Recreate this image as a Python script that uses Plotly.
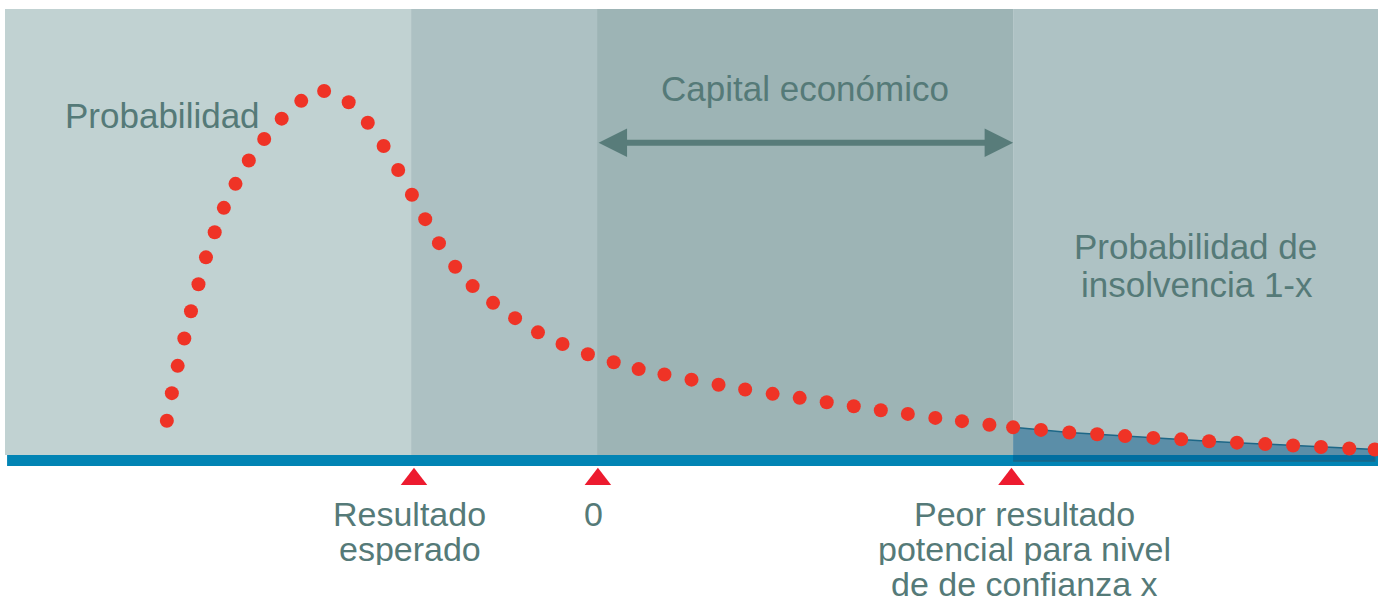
import plotly.graph_objects as go

# ---------------- data ----------------
# loss distribution: x = result (0 at "0", worst result at confidence x = 100), y = density (peak = 100)
loss_x = [-103.4, -102.2, -100.8, -99.2, -97.6, -95.8, -94.0, -91.9, -89.7, -86.9,
          -83.7, -80.0, -75.8, -71.1, -65.6, -59.7, -55.1, -51.3, -47.8, -44.5,
          -41.3, -38.0, -34.1, -29.9, -25.0, -19.7, -14.2, -8.3, -2.2, 4.0,
          10.0, 16.2, 22.7, 29.2, 35.6, 42.2, 48.7, 55.2, 61.7, 68.2,
          74.7, 81.3, 87.7, 94.3, 100.0, 106.7, 113.5, 120.2, 126.9, 133.7,
          140.4, 147.1, 153.8, 160.6, 167.3, 174.0, 180.8, 186.9]
density_y = [9.4, 17.0, 24.5, 32.0, 39.5, 46.9, 54.3, 61.2, 67.9, 74.5,
             80.9, 86.8, 92.4, 97.3, 100.0, 96.9, 91.3, 84.9, 78.3, 71.5,
             64.8, 58.2, 51.7, 46.4, 41.8, 37.6, 33.7, 30.5, 27.7, 25.5,
             23.6, 22.1, 20.7, 19.3, 18.0, 16.8, 15.7, 14.5, 13.4, 12.3,
             11.3, 10.2, 9.3, 8.3, 7.6, 6.9, 6.2, 5.7, 5.2, 4.7,
             4.3, 3.8, 3.4, 3.0, 2.6, 2.2, 1.8, 1.5]

# background bands
band_edges = [-142.3, -44.7, 0.0, 100.0, 187.7]
band_colors = ["#c1d2d2", "#adc1c3", "#9db4b5", "#aec2c4"]
band_top = 122.53

# key points marked under the axis
key_x = [-44.0, 0.2, 99.6]
key_labels = [["Resultado", "esperado"], ["0"],
              ["Peor resultado", "potencial para nivel", "de de confianza x"]]
key_label_x = [-45.0, -0.8, 102.8]

confidence_x = 100.0
x_range = [-142.3, 187.7]
y_range = [-40.38, 122.53]
axis_bar = [-3.02, 0.0]
tail_floor = -1.65
marker_y = -6.67
label_line_y = [-16.0, -25.8, -35.3]

TEXT = "#557a78"
FONT = "Liberation Sans, Arial, sans-serif"

fig = go.Figure()

# background bands
shapes = []
for i, c in enumerate(band_colors):
    shapes.append(dict(type="rect", xref="x", yref="y", x0=band_edges[i], x1=band_edges[i + 1],
                       y0=0, y1=band_top, fillcolor=c, line_width=0, layer="below"))
# blue axis bar
shapes.append(dict(type="rect", xref="x", yref="y", x0=-141.8, x1=x_range[1],
                   y0=axis_bar[0], y1=axis_bar[1], fillcolor="#0284b4", line_width=0, layer="below"))

# tail (probability of insolvency) area
tail_x = [x for x in loss_x if x >= confidence_x]
tail_y = [y for x, y in zip(loss_x, density_y) if x >= confidence_x]
poly_x = tail_x + [tail_x[-1], tail_x[0]]
poly_y = tail_y + [tail_floor, tail_floor]
fig.add_trace(go.Scatter(x=poly_x, y=poly_y, fill="toself", mode="lines",
                         fillcolor="rgba(0,85,137,0.48)",
                         line=dict(color="#1d6787", width=1.5),
                         hoverinfo="skip", showlegend=False))

# dotted distribution
fig.add_trace(go.Scatter(x=loss_x, y=density_y, mode="markers",
                         marker=dict(size=14, color="#ef3326"),
                         hoverinfo="skip", showlegend=False))

# red triangle markers under the axis
fig.add_trace(go.Scatter(x=key_x, y=[marker_y] * len(key_x), mode="markers",
                         marker=dict(symbol="triangle-up", size=23, color="#ed1b2f"),
                         hoverinfo="skip", showlegend=False))

ann = []
# arrow for economic capital
ann.append(dict(x=confidence_x, y=85.8, ax=0, ay=85.8, xref="x", yref="y", axref="x", ayref="y",
                text="", showarrow=True, arrowside="end+start", arrowhead=2, startarrowhead=2,
                arrowsize=0.95, startarrowsize=0.95, arrowwidth=6, arrowcolor="#587c7a"))
ann.append(dict(x=50, y=100.8, xref="x", yref="y", text="Capital económico", showarrow=False,
                xanchor="center", yanchor="middle", font=dict(family=FONT, size=35, color=TEXT)))
ann.append(dict(x=-128.3, y=93.3, xref="x", yref="y", text="Probabilidad", showarrow=False,
                xanchor="left", yanchor="middle", font=dict(family=FONT, size=35, color=TEXT)))
ann.append(dict(x=143.8, y=57.5, xref="x", yref="y", text="Probabilidad de", showarrow=False,
                height=36, xanchor="center", yanchor="middle",
                font=dict(family=FONT, size=35, color=TEXT)))
ann.append(dict(x=144.3, y=47.0, xref="x", yref="y", text="insolvencia 1-x", showarrow=False,
                height=36, xanchor="center", yanchor="middle",
                font=dict(family=FONT, size=35, color=TEXT)))
for lx, lines in zip(key_label_x, key_labels):
    for j, t in enumerate(lines):
        ann.append(dict(x=lx, y=label_line_y[j], xref="x", yref="y", text=t, showarrow=False,
                        height=33, xanchor="center", yanchor="middle",
                        font=dict(family=FONT, size=34, color=TEXT)))

fig.update_layout(
    width=1386, height=602,
    margin=dict(l=5, r=8, t=9, b=0),
    paper_bgcolor="white", plot_bgcolor="white",
    xaxis=dict(range=x_range, visible=False, fixedrange=True),
    yaxis=dict(range=y_range, visible=False, fixedrange=True),
    shapes=shapes, annotations=ann, showlegend=False,
)

fig.write_html("out.html")
